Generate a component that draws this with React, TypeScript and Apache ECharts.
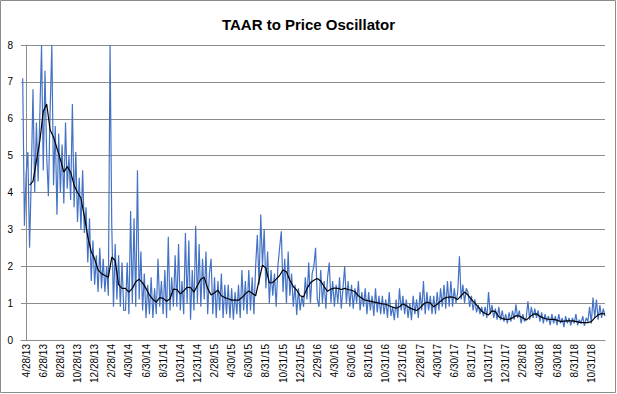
import React, { useEffect, useRef } from "react";
import * as echarts from "echarts";

const tickLabels = [
  "4/28/13", "6/28/13", "8/28/13", "10/28/13", "12/28/13", "2/28/14", "4/30/14", "6/30/14",
  "8/31/14", "10/31/14", "12/31/14", "2/28/15", "4/30/15", "6/30/15", "8/31/15", "10/31/15",
  "12/31/15", "2/29/16", "4/30/16", "6/30/16", "8/31/16", "10/31/16", "12/31/16", "2/28/17",
  "4/30/17", "6/30/17", "8/31/17", "10/31/17", "12/31/17", "2/28/18", "4/30/18", "6/30/18",
  "8/31/18", "10/31/18",
];

// TAAR to price ratio, roughly weekly samples (10 per 2-month label step)
const blueValues = [
  7.1, 3.1, 4.5, 5.1, 2.5, 4.4, 6.8, 4.0, 5.9, 4.3,
  6.1, 8.0, 4.6, 7.3, 5.0, 3.9, 6.2, 8.0, 4.2, 5.8,
  3.4, 5.6, 4.0, 5.3, 3.7, 5.9, 4.1, 5.0, 3.8, 6.4,
  3.6, 5.1, 3.2, 4.4, 3.0, 4.6, 2.9, 3.6, 2.1, 3.3,
  1.6, 2.7, 1.5, 2.3, 1.3, 2.5, 1.4, 2.2, 1.3, 2.0,
  1.2, 8.0, 3.1, 0.9, 2.6, 1.1, 2.3, 0.9, 2.1, 0.8,
  0.8, 2.1, 0.7, 3.5, 1.0, 3.3, 0.9, 4.6, 1.1, 2.4,
  0.8, 1.8, 0.6, 1.5, 0.7, 1.7, 0.6, 1.4, 0.7, 2.2,
  0.9, 1.6, 0.7, 1.9, 0.6, 2.8, 0.8, 1.7, 0.9, 2.3,
  0.9, 2.6, 0.8, 1.6, 0.7, 2.9, 1.0, 2.7, 0.55, 1.9,
  0.8, 3.1, 1.0, 2.6, 0.9, 2.2, 1.1, 2.4, 0.7, 1.8,
  2.2, 0.7, 1.7, 0.6, 1.6, 0.8, 1.8, 0.6, 1.5, 0.7,
  1.5, 0.6, 1.4, 0.55, 1.3, 0.7, 1.5, 0.6, 1.9, 0.8,
  1.6, 0.7, 1.9, 0.8, 1.7, 0.7, 2.0, 2.85, 1.5, 3.4,
  2.0, 3.0, 1.4, 2.4, 1.0, 1.9, 1.2, 1.8, 0.9, 2.0,
  2.5, 2.95, 1.3, 2.2, 1.0, 2.4, 1.2, 1.8, 0.9, 1.5,
  0.68, 1.4, 0.8, 1.2, 0.9, 1.7, 1.1, 2.1, 1.0, 1.8,
  2.0, 2.5, 1.1, 0.9, 1.9, 1.0, 1.6, 0.85, 1.7, 2.1,
  1.0, 1.6, 0.9, 1.5, 1.0, 1.7, 0.85, 1.4, 2.0, 1.0,
  1.6, 0.9, 1.5, 0.85, 1.4, 1.0, 1.6, 0.8, 1.3, 0.9,
  1.4, 0.7, 1.3, 0.8, 1.2, 0.65, 1.4, 0.75, 1.2, 0.7,
  1.2, 0.7, 1.1, 0.6, 1.3, 0.65, 0.9, 0.54, 1.1, 0.6,
  1.4, 0.8, 1.2, 0.7, 1.1, 0.6, 1.0, 0.54, 1.2, 0.7,
  1.1, 0.6, 1.3, 0.8, 1.6, 0.7, 1.3, 0.8, 1.2, 0.7,
  1.2, 0.7, 1.3, 0.8, 1.4, 0.9, 1.5, 0.85, 1.6, 0.9,
  1.6, 0.9, 1.4, 1.0, 1.3, 2.27, 1.1, 1.5, 1.0, 1.4,
  1.3, 0.9, 1.2, 0.8, 1.1, 0.75, 0.95, 0.7, 0.9, 0.65,
  0.9, 0.6, 1.3, 0.7, 0.95, 0.6, 0.85, 0.55, 0.9, 0.54,
  0.8, 0.5, 0.7, 0.45, 0.75, 0.5, 0.8, 0.55, 0.97, 0.6,
  0.8, 0.45, 0.7, 0.5, 0.6, 1.05, 0.55, 0.9, 0.6, 0.85,
  0.6, 0.8, 0.5, 0.75, 0.45, 0.7, 0.5, 0.65, 0.4, 0.7,
  0.45, 0.65, 0.4, 0.7, 0.45, 0.6, 0.35, 0.65, 0.45, 0.6,
  0.4, 0.6, 0.45, 0.7, 0.4, 0.55, 0.45, 0.65, 0.38, 0.6,
  0.5, 0.9, 0.45, 1.15, 0.6, 1.1, 0.55, 0.95, 0.6, 0.85,
  0.65,
];

// Moving average (every 2 samples, starting at sample position 2)
const blackValues = [
  4.2, 4.3, 4.85, 5.4, 6.2, 6.4, 5.7, 5.5, 5.2, 4.9,
  4.55, 4.7, 4.55, 4.2, 4.0, 3.85, 3.35, 2.8, 2.4, 2.2,
  1.9, 1.8, 1.75, 1.7, 2.25, 2.15, 1.5, 1.4, 1.4, 1.3,
  1.4, 1.58, 1.65, 1.55, 1.4, 1.22, 1.1, 1.03, 1.15, 1.13,
  1.05, 1.12, 1.38, 1.37, 1.25, 1.33, 1.43, 1.42, 1.3, 1.48,
  1.65, 1.7, 1.4, 1.22, 1.28, 1.35, 1.2, 1.15, 1.12, 1.08,
  1.08, 1.08, 1.15, 1.25, 1.33, 1.27, 1.2, 1.62, 2.03, 1.95,
  1.55, 1.56, 1.65, 1.75, 1.9, 1.85, 1.62, 1.45, 1.35, 1.2,
  1.17, 1.4, 1.55, 1.62, 1.67, 1.6, 1.45, 1.32, 1.38, 1.41,
  1.4, 1.37, 1.4, 1.37, 1.35, 1.31, 1.2, 1.13, 1.08, 1.06,
  1.04, 1.02, 1.0, 0.98, 0.97, 0.93, 0.89, 0.86, 0.9, 0.98,
  0.93, 0.87, 0.83, 0.8, 0.87, 0.97, 1.03, 1.0, 0.9, 0.97,
  1.05, 1.13, 1.16, 1.17, 1.15, 1.1, 1.2, 1.3, 1.22, 1.1,
  1.0, 0.9, 0.78, 0.72, 0.68, 0.79, 0.77, 0.63, 0.58, 0.56,
  0.56, 0.6, 0.66, 0.65, 0.6, 0.54, 0.62, 0.7, 0.71, 0.64,
  0.6, 0.57, 0.56, 0.56, 0.54, 0.5, 0.51, 0.52, 0.52, 0.51,
  0.49, 0.47, 0.47, 0.47, 0.5, 0.6, 0.68, 0.72, 0.7,
];

const STEP = 10; // samples per label
const BLUE_START = -2;
const BLACK_START = 2;

export default function App() {
  const ref = useRef<HTMLDivElement>(null);
  useEffect(() => {
    if (!ref.current) return;
    const chart = echarts.init(ref.current, undefined, { renderer: "svg" });
    const blueData = blueValues.map((v, i) => [BLUE_START + i, v]);
    const blackData = blackValues.map((v, i) => [BLACK_START + 2 * i, v]);
    chart.setOption({
      animation: false,
      backgroundColor: "#ffffff",
      title: {
        text: "TAAR to Price Oscillator",
        left: "center",
        top: 12,
        textStyle: {
          fontFamily: "Liberation Sans",
          fontWeight: "bold",
          fontSize: 15,
          color: "#000",
        },
      },
      graphic: [
        {
          type: "rect",
          shape: { x: 0.5, y: 0.5, width: 615, height: 392 },
          style: { fill: "none", stroke: "#8c8c8c", lineWidth: 1 },
          silent: true,
          z: 100,
        },
      ],
      grid: { left: 21, right: 12, top: 45, bottom: 54, containLabel: false },
      xAxis: {
        type: "value",
        min: -3,
        max: 338,
        splitLine: { show: false },
        axisTick: { show: false },
        axisLine: { show: true, onZero: false, lineStyle: { color: "#8c8c8c", width: 1 } },
        axisLabel: {
          customValues: tickLabels.map((_, i) => i * STEP),
          formatter: (v: number) => tickLabels[Math.round(v / STEP)] ?? "",
          rotate: 90,
          fontFamily: "Liberation Sans",
          fontSize: 10,
          color: "#000",
          margin: 4,
        },
      },
      yAxis: {
        type: "value",
        min: 0,
        max: 8,
        interval: 1,
        axisLine: { show: true, lineStyle: { color: "#8c8c8c", width: 1 } },
        axisTick: { show: false },
        splitLine: { show: true, lineStyle: { color: "#8c8c8c", width: 1 } },
        axisLabel: {
          fontFamily: "Liberation Sans",
          fontSize: 10,
          color: "#000",
          margin: 8,
        },
      },
      series: [
        {
          type: "line",
          data: blueData,
          showSymbol: false,
          symbol: "none",
          clip: true,
          lineStyle: { color: "#4472c4", width: 1.2 },
          z: 2,
        },
        {
          type: "line",
          data: blackData,
          showSymbol: false,
          symbol: "none",
          clip: true,
          lineStyle: { color: "#000000", width: 1.2 },
          z: 3,
        },
      ],
    });
    return () => chart.dispose();
  }, []);
  return (
    <div
      ref={ref}
      style={{ position: "fixed", left: 0, top: 0, width: 617, height: 394 }}
    />
  );
}
